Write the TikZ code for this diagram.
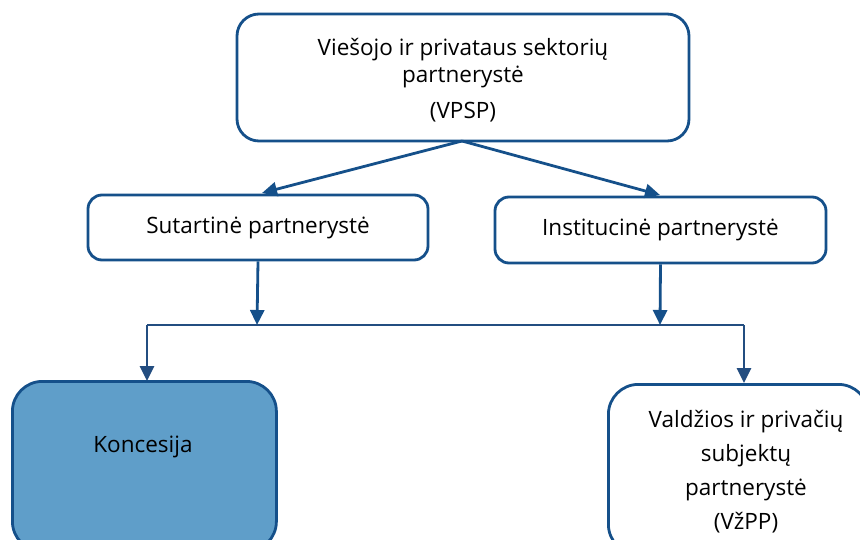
\documentclass[tikz,border=0pt]{standalone}
\usepackage{fontspec}
\setmainfont{Open Sans}
\usetikzlibrary{arrows.meta}
\definecolor{edge}{HTML}{15508A}
\definecolor{edgeb}{HTML}{234D80}
\definecolor{fillb}{HTML}{5F9EC9}
\begin{document}
\begin{tikzpicture}[x=1pt,y=-1pt,
  box/.style={draw=edge,line width=2.8pt,fill=white,rounded corners=22pt,inner sep=0pt},
  txt/.style={align=center,font=\fontsize{22.5}{34}\selectfont,inner sep=0pt},
  conn/.style={draw=edge,line width=2.8pt,-{Triangle[length=15pt,width=14pt]}},
  connb/.style={conn,draw=edgeb},
  ln/.style={draw=edgeb,line width=2.8pt}]
\useasboundingbox (0,0) rectangle (860,540);
\clip (0,0) rectangle (860,540);
\node[box,minimum width=452pt,minimum height=127pt] (top) at (463,77.5) {};
\node[txt,font=\fontsize{22.5}{27}\selectfont,anchor=north] (tt) at (463,38) {Viešojo ir privataus sektorių\\partnerystė\\[9pt](VPSP)};
\node[box,minimum width=340pt,minimum height=65pt,rounded corners=14pt] (sut) at (258,227.5) {};
\node[txt] at (258,228) {Sutartinė partnerystė};
\node[box,minimum width=331pt,minimum height=66pt,rounded corners=14pt] (ins) at (660.5,230) {};
\node[txt] at (660.5,230) {Institucinė partnerystė};
\node[box,fill=fillb,minimum width=264pt,minimum height=170pt,rounded corners=30pt,anchor=north west] (kon) at (11,380) {};
\node[txt] at (143,447) {Koncesija};
\node[box,minimum width=260pt,minimum height=170pt,rounded corners=30pt,anchor=north west] (vzpp) at (607,383) {};
\node[txt,anchor=north] (vt) at (746,410) {Valdžios ir privačių\\subjektų\\partnerystė\\(VžPP)};
\coordinate (tb) at (462,141);
\coordinate (j1) at (257,325);
\coordinate (j2) at (660,325);
\coordinate (l) at (147,325);
\coordinate (r) at (744,325);
\draw[conn] (tb) -- (262,193);
\draw[conn] (tb) -- (660,195);
\draw[conn] (sut.south -| 258,0) -- (j1);
\draw[conn] (ins.south) -- (j2);
\draw[ln] (l) -- (r);
\draw[connb] (l) -- (147,381);
\draw[connb] (r) -- (744,383);
\end{tikzpicture}
\end{document}
